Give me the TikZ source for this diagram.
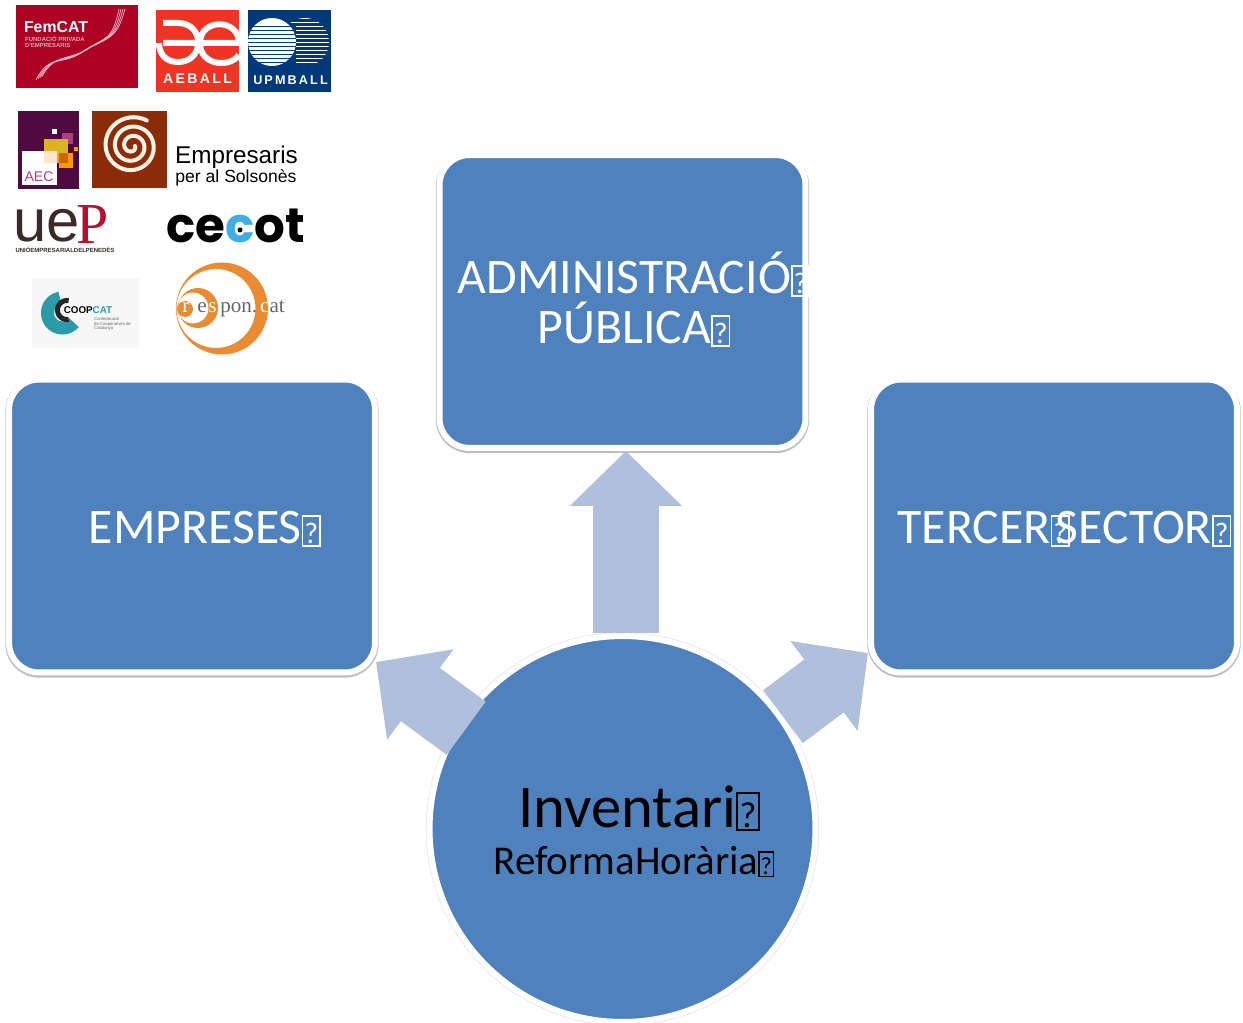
\documentclass[tikz,border=0pt]{standalone}
\usepackage{fontspec}
\setmainfont{Carlito}
\newfontfamily\logosans{Liberation Sans}
\newfontfamily\logoserif{Liberation Serif}
\newfontfamily\logobold{Poppins}[UprightFont=* Bold]
\usetikzlibrary{arrows.meta}

\definecolor{nodeblue}{HTML}{4F81BD}
\definecolor{arrowblue}{HTML}{B0C0DC}
\definecolor{femred}{HTML}{AE0023}
\definecolor{aeballred}{HTML}{EE3524}
\definecolor{upmblue}{HTML}{00397A}
\definecolor{aecpurple}{HTML}{4F0A3F}
\definecolor{solsbrown}{HTML}{8B2C08}
\definecolor{uepbrown}{HTML}{3C2A26}
\definecolor{uepred}{HTML}{B5112F}
\definecolor{cecotblue}{HTML}{3FAEE5}
\definecolor{coopteal}{HTML}{2B9BAA}
\definecolor{responorange}{HTML}{E88B32}

\newcommand{\tofu}{{\setlength{\fboxsep}{.02em}\setlength{\fboxrule}{.035em}\fbox{\rule{0pt}{.52em}\scalebox{.6}{?}}}}
\newcommand{\fsize}[1]{\fontsize{#1}{1.01\dimexpr#1pt\relax}\selectfont}

\begin{document}
\begin{tikzpicture}[
    x=.02cm, y=-.02cm,
    boxnode/.style={rectangle, rounded corners=.6cm, fill=nodeblue, draw=white, line width=.12cm,
        minimum width=7.32cm, minimum height=5.86cm,
        preaction={draw=black!25, line width=.15cm, transform canvas={yshift=-.8pt}}},
    circlenode/.style={circle, fill=nodeblue, draw=white, line width=.12cm, minimum size=7.72cm,
        preaction={draw=black!10, line width=.15cm}},
    boxtext/.style={text=white, font=\fsize{28.3}, align=center, inner sep=0pt},
    blockarrow/.style={draw=arrowblue, line width=1.32cm, -{Triangle[length=1.1cm,width=2.18cm]}},
    logotext/.style={inner sep=0pt, align=left}
]
\useasboundingbox (0,0) rectangle (1243,1023);

% Main boxes
\node[boxnode] (empreses) at (192,526) {};
\node[boxnode] (admin) at (622.5,301.5) {};
\node[boxnode] (tercer) at (1054,526) {};
\node[circlenode] (inv) at (622.5,829) {};

% Arrows from the circle
\coordinate (tipempreses) at (376,662);
\coordinate (tiptercer) at (868,653);
\draw[blockarrow] (inv.89) -- (inv.89 |- admin.south);
\draw[blockarrow, shorten <=-.2cm] (inv.147) -- (tipempreses);
\draw[blockarrow] (inv.35) -- (tiptercer);

% Labels
\node[boxtext] (empresestext) at (205,529) {EMPRESES\tofu};
\node[boxtext] (admintext) at (634,299.5) {ADMINISTRACIÓ\tofu\\PÚBLICA\tofu};
\node[boxtext] (tercertext) at (1064.5,529) {TERCER\tofu\kern-.28em SECTOR\tofu};
\node[inner sep=0pt, font=\fsize{34.5}] (invtext) at (639,808) {Inventari\tofu};
\node[inner sep=0pt, font=\fsize{23.3}] (reformatext) at (634,862) {ReformaHorària\tofu};

% FemCAT
\fill[femred] (16,5) rectangle (138,88);
\foreach \d in {0,2,4,6}
    \draw[white!75!femred, line width=.4pt] (36+\d,80-\d*.6) .. controls (50+\d,52) and (62+\d,68-\d) .. (85+\d,50-\d*.5)
        .. controls (108+\d,36) and (112+\d,40-\d) .. (119+\d,9);
\node[logotext, text=white, font=\logosans\bfseries\fsize{9}] (femcat) at (56,27) {FemCAT};
\node[logotext, text=white!65!femred, font=\logosans\bfseries\fsize{3.4}] (femsub) at (55,42) {FUNDACIÓ PRIVADA\\D'EMPRESARIS};

% AEBALL
\fill[aeballred] (156,10) rectangle (239,92);
\draw[white, line width=.12cm] (163,23) -- (178,23) .. controls (205,23) and (205,62) .. (178,62) .. controls (165,62) and (159,53) .. (159,43)
    (163,43) -- (239,43)
    (200,43) .. controls (200,18) and (239,18) .. (239,43)
    (200,43) .. controls (200,66) and (230,68) .. (239,55);
\node[text=white, inner sep=0pt, font=\logosans\bfseries\fsize{8}] (aeball) at (197.5,79) {A\,E\,B\,A\,L\,L};

% UPMBALL
\fill[upmblue] (248,10) rectangle (331,92);
\fill[white] (272,42) circle[radius=24];
\begin{scope}
    \clip (305,42) circle[radius=24];
    \foreach \y in {18,22,...,66}
        \draw[white, line width=.5pt] (270,\y) -- (331,\y);
\end{scope}
\foreach \y in {26,30,...,62}
    \draw[upmblue, line width=.5pt] (248,\y) -- (296,\y);
\node[text=white, inner sep=0pt, font=\logosans\bfseries\fsize{7.2}] (upmball) at (290.5,80) {U\,P\,M\,B\,A\,L\,L};

% AEC
\fill[aecpurple] (18,111) rectangle (79,189);
\fill[white] (52,129) rectangle (57,134);
\fill[white] (22,151) rectangle (57,185);
\fill[orange!80!yellow] (59,153) rectangle (73,168);
\fill[orange!80!yellow] (74,147) rectangle (78,151);
\fill[magenta!50!aecpurple] (62,133) rectangle (73,144);
\fill[yellow!60!orange!85!black] (44,139) rectangle (68,163);
\fill[orange!80!black] (59,153) rectangle (68,163);
\fill[orange!20!white] (44,151) rectangle (57,163);
\node[text=magenta!50!aecpurple, inner sep=0pt, font=\logosans\fsize{8}] (aec) at (39,177) {AEC};

% Empresaris per al Solsones
\fill[solsbrown] (92,111) rectangle (167,188);
\draw[white!90!orange, line width=.08cm, line cap=round] plot[domain=0:1020, samples=120, smooth]
    ({132+(3+\x*.026)*cos(\x)}, {146+(3+\x*.026)*sin(\x)});
\node[logotext, font=\logosans\fsize{13.8}] (empresaris) at (236.5,157) {Empresaris};
\node[logotext, font=\logosans\fsize{10}] (solsones) at (236,178) {per al Solsonès};

% UEP
\node[logotext, text=uepbrown, font=\logosans\fsize{34}] (uep) at (47,226) {ue};
\node[logotext, text=uepred, font=\logoserif\fsize{33}] (ueppart) at (93,225) {P};
\node[logotext, text=uepbrown, font=\logosans\bfseries\fsize{3.4}] (uepsub) at (65,250) {UNIÓEMPRESARIALDELPENEDÈS};

% Cecot
\node[logotext, font=\logobold\fsize{27.5}] (cecot) at (235.5,226) {ce\textcolor{cecotblue}{c}ot};
\fill (240,230) circle[radius=2.5];

% Coopcat
\fill[black!3] (32,278) rectangle (139,348);
\draw[coopteal, line width=.26cm] plot[domain=100:320, samples=40] ({62.5+15*cos(\x)}, {313-15*sin(\x)});
\draw[black!85, line width=.1cm] plot[domain=80:280, samples=40] ({67+9.5*cos(\x)}, {310-9.5*sin(\x)});
\node[logotext, font=\logosans\bfseries\fsize{5.6}] (coopcat) at (88,310) {COOP\textcolor{coopteal}{CAT}};
\node[logotext, text=black!60, font=\logosans\fsize{2.4}] (coopsub) at (112.5,324) {Confederació\\de Cooperatives de\\Catalunya};

% Respon.cat
\fill[responorange, even odd rule] (222,308.5) circle[radius=46] (216,308.5) circle[radius=39.5];
\fill[responorange, even odd rule] (198,308) circle[radius=20] (193,308) circle[radius=15.5];
\fill[responorange] (185,309) circle[radius=8];
\node[logotext, font=\logoserif\fsize{12}, text=black!60] (respon) at (233.5,309) {\textcolor{white}{r}\kern.38em e\kern.08em\textcolor{white}{s}\kern.18em pon.\kern.14em\textcolor{white}{c}at};

\end{tikzpicture}
\end{document}
